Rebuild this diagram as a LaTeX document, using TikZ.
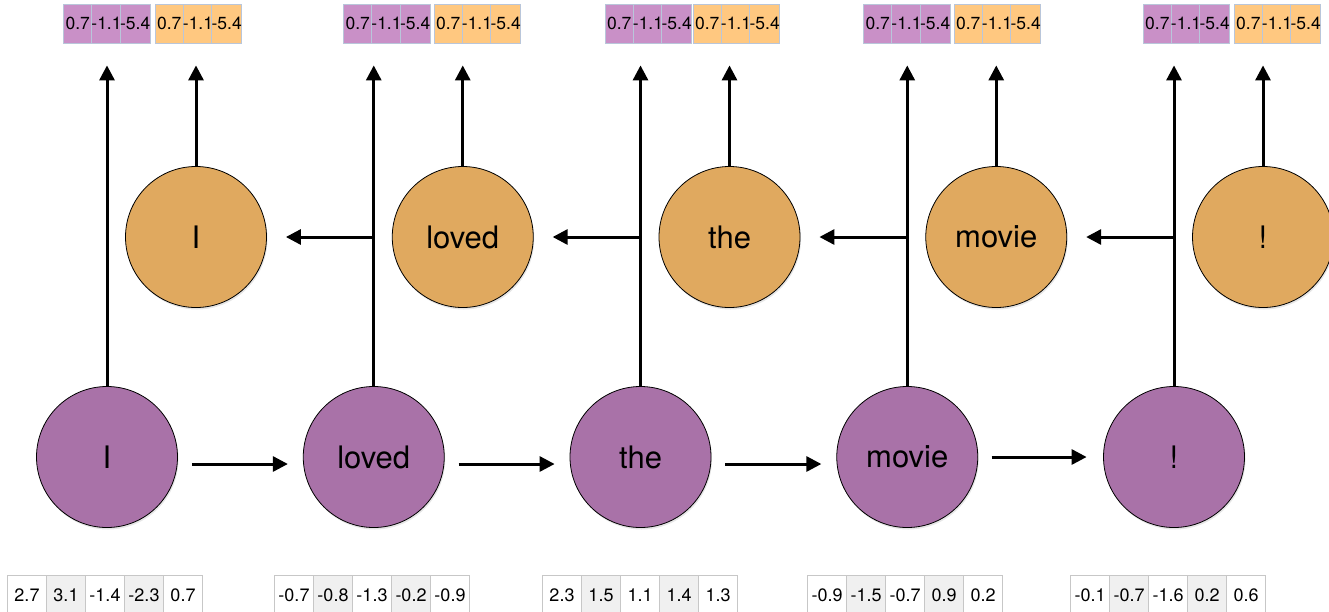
\documentclass[tikz,border=0pt]{standalone}
\usepackage{fontspec}
\setmainfont{TeX Gyre Heros}
\usetikzlibrary{arrows.meta,shadows}
\definecolor{fwdcol}{HTML}{A972A8}
\definecolor{bwdcol}{HTML}{E0A95F}
\definecolor{fwdcell}{HTML}{C990C7}
\definecolor{bwdcell}{HTML}{FFC880}
\definecolor{cellline}{HTML}{B9C6DA}
\begin{document}
\begin{tikzpicture}[x=1pt,y=-1pt,->,>={Triangle[width=15pt,length=15pt]},line width=3pt,
                node distance=266.75pt,
                fwd node/.style={circle,draw,line width=0.8pt,fill=fwdcol,minimum size=141pt,inner sep=0pt,
                  font=\fontsize{31}{31}\selectfont,drop shadow={opacity=0.2,shadow xshift=1pt,shadow yshift=-2pt}},
                bwd node/.style={fwd node,fill=bwdcol},
                out cell/.style={draw=cellline,line width=0.8pt,minimum width=28.7pt,minimum height=39pt,inner sep=0pt,
                  font=\fontsize{17.5}{17.5}\selectfont},
                emb cell/.style={draw=black!22,line width=0.8pt,minimum width=39pt,minimum height=40pt,inner sep=0pt,
                  font=\fontsize{18}{18}\selectfont}]
  \useasboundingbox (0,0) rectangle (1329,611);
  \clip (0,0) rectangle (1329,611);

  % forward pass
  \node[fwd node] (p1) at (107,457) {I};
  \node[fwd node] (p2) [right of=p1] {loved};
  \node[fwd node] (p3) [right of=p2] {the};
  \node[fwd node] (p4) [right of=p3] {movie};
  \node[fwd node] (p5) [right of=p4] {!};

  % backward pass
  \node[bwd node] (o1) at (196,237) {I};
  \node[bwd node] (o2) [right of=o1] {loved};
  \node[bwd node] (o3) [right of=o2] {the};
  \node[bwd node] (o4) [right of=o3] {movie};
  \node[bwd node] (o5) [right of=o4] {!};

  % output vectors
  \foreach \i/\x in {1/106.5,2/386.5,3/648,4/906.5,5/1186}
    \foreach \v [count=\k] in {0.7,-1.1,-5.4}
      \node[out cell,fill=fwdcell] (tp\i-\k) at ({\x+(\k-2)*28.7},23.5) {\v};
  \foreach \i/\x in {1/198,2/477,3/736,4/997,5/1277}
    \foreach \v [count=\k] in {0.7,-1.1,-5.4}
      \node[out cell,fill=bwdcell] (to\i-\k) at ({\x+(\k-2)*28.7},23.5) {\v};

  % word embeddings
  \foreach \g/\x/\vals in {1/105/{2.7,3.1,-1.4,-2.3,0.7},2/372/{-0.7,-0.8,-1.3,-0.2,-0.9},
                           3/640/{2.3,1.5,1.1,1.4,1.3},4/905/{-0.9,-1.5,-0.7,0.9,0.2},
                           5/1168/{-0.1,-0.7,-1.6,0.2,0.6}}
    \foreach \v [count=\k] in \vals {
      \pgfmathtruncatemacro\gr{6*(1-mod(\k,2))}
      \node[emb cell,fill=black!\gr] (e\g-\k) at ({\x+(\k-3)*39},595) {\v};
    }

  \foreach \i in {1,...,5} {
    \draw[shorten >=22pt] (p\i) -- (p\i |- tp\i-2.south);
    \draw[shorten >=22pt] (o\i) -- (o\i |- to\i-2.south);
  }
  \foreach \i/\j in {2/1,3/2,4/3,5/4} {
    \coordinate (m\i) at (p\i |- o\j);
    \draw[shorten >=19pt] (m\i) -- (o\j);
  }
  \foreach \i/\j in {1/2,2/3,3/4}
    \draw[shorten <=14pt,shorten >=15pt] ([yshift=-7pt]p\i.east) -- ([yshift=-7pt]p\j.west);
  \draw[shorten <=13.5pt,shorten >=16.5pt] (p4) -- (p5);
\end{tikzpicture}
\end{document}
